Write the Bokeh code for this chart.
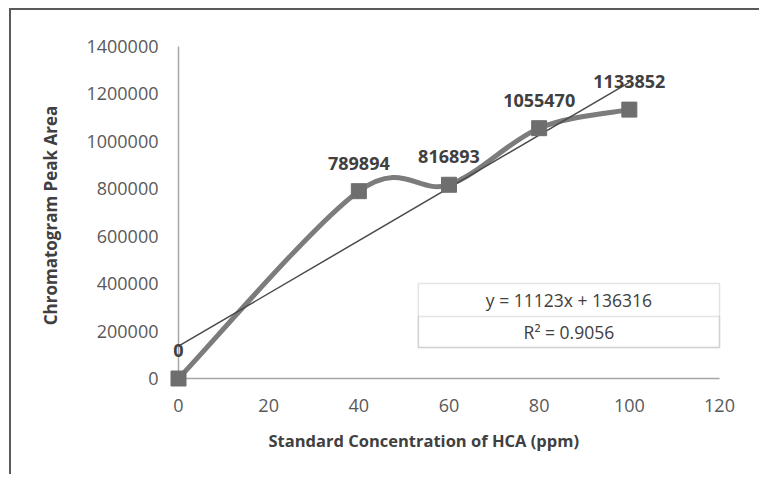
import numpy as np
from bokeh.plotting import figure
from bokeh.models import ColumnDataSource, Label, BoxAnnotation, FixedTicker, Title
from bokeh.core.properties import value
from bokeh.embed import file_html
from bokeh.resources import INLINE

# ---- data ----
conc = [0, 40, 60, 80, 100]
peak_area = [0, 789894, 816893, 1055470, 1133852]
point_labels = ["0", "789894", "816893", "1055470", "1133852"]
x_ticks = [0, 20, 40, 60, 80, 100, 120]
y_ticks = [0, 200000, 400000, 600000, 800000, 1000000, 1200000, 1400000]
trend_slope = 11123
trend_intercept = 136316
trend_x = [0, 100]
equation_text = "y = 11123x + 136316"
r2_text = "R\u00b2 = 0.9056"

FONT = "Open Sans"

# ---- geometry: frame padded a little so markers/labels at the axes are not clipped ----
FRAME_W, FRAME_H = 568, 354
x_lo, x_hi = x_ticks[0], x_ticks[-1]
y_lo, y_hi = y_ticks[0], y_ticks[-1]
x_scale = 541.0 / (x_hi - x_lo)          # px per unit
y_scale = 332.0 / (y_hi - y_lo)
pad_l, pad_r = 18.0, FRAME_W - 18.0 - 541.0
pad_b, pad_t = 14.0, FRAME_H - 14.0 - 332.0
x_range = (x_lo - pad_l / x_scale, x_hi + pad_r / x_scale)
y_range = (y_lo - pad_b / y_scale, y_hi + pad_t / y_scale)

p = figure(width=750, height=466, output_backend="svg", toolbar_location=None,
           x_range=x_range, y_range=y_range,
           min_border_left=149, min_border_right=33, min_border_top=28, min_border_bottom=84)
p.styles = {"border-top": "2px solid #5a5a5a", "border-left": "2px solid #5a5a5a",
            "margin-left": "9px", "margin-top": "8px"}
p.outline_line_color = None
p.grid.visible = False
p.background_fill_color = "white"
p.border_fill_color = "white"

# axes (labels only; axis lines drawn from the tick extents)
for ax in (p.xaxis, p.yaxis):
    ax.axis_line_color = None
    ax.major_tick_line_color = None
    ax.minor_tick_line_color = None
    ax.major_tick_out = 0
    ax.major_tick_in = 0
    ax.minor_tick_out = 0
    ax.major_label_text_font = FONT
    ax.major_label_text_font_size = "18px"
    ax.major_label_text_color = "#595959"
p.xaxis.ticker = FixedTicker(ticks=x_ticks)
p.yaxis.ticker = FixedTicker(ticks=y_ticks)
p.xaxis.major_label_standoff = 6
p.yaxis.major_label_standoff = 2
p.yaxis.major_label_overrides = {t: str(t) for t in y_ticks}
p.xaxis.major_label_overrides = {t: str(t) for t in x_ticks}

p.yaxis.axis_label = "Chromatogram Peak Area"
p.yaxis.axis_label_text_font = FONT
p.yaxis.axis_label_text_font_size = "17px"
p.yaxis.axis_label_text_font_style = "bold"
p.yaxis.axis_label_text_color = "#404040"
p.yaxis.axis_label_standoff = 21

p.add_layout(Title(text="Standard Concentration of HCA (ppm)", align="left", offset=108,
                   text_font=FONT, text_font_size="16.5px", text_font_style="bold",
                   text_color="#404040", standoff=25), "below")

axis_color = "#a6a6a6"
p.line([x_lo, x_hi], [y_lo, y_lo], line_color=axis_color, line_width=1.5)
p.line([x_lo, x_lo], [y_lo, y_hi], line_color=axis_color, line_width=1.5)

# ---- smoothed line (Excel-style bezier through the data) ----
xa = np.array(conc, dtype=float)
ya = np.array(peak_area, dtype=float)
xp = np.concatenate([[xa[0]], xa, [xa[-1]]])
yp = np.concatenate([[ya[0]], ya, [ya[-1]]])
n = len(xa) - 1
seg = dict(
    x0=xa[:-1], y0=ya[:-1], x1=xa[1:], y1=ya[1:],
    cx0=xa[:-1] + (xp[2:n + 2] - xp[0:n]) / 6.0,
    cy0=ya[:-1] + (yp[2:n + 2] - yp[0:n]) / 6.0,
    cx1=xa[1:] - (xp[3:n + 3] - xp[1:n + 1]) / 6.0,
    cy1=ya[1:] - (yp[3:n + 3] - yp[1:n + 1]) / 6.0,
)
p.bezier(source=ColumnDataSource(seg), x0="x0", y0="y0", x1="x1", y1="y1",
         cx0="cx0", cy0="cy0", cx1="cx1", cy1="cy1",
         line_color="#7c7c7c", line_width=5)

# trend line
tx = np.array(trend_x, dtype=float)
p.line(tx, trend_slope * tx + trend_intercept, line_color="#4a4a4a", line_width=1.5)

# markers
src = ColumnDataSource(dict(x=conc, y=peak_area, lab=point_labels))
p.scatter("x", "y", source=src, marker="square", size=15,
          fill_color="#6e6e6e", line_color="#6e6e6e")

# data labels
p.text("x", "y", text="lab", source=src, text_font=value(FONT), text_font_size="18px",
       text_font_style="bold", text_color="#404040", text_align="center",
       text_baseline="middle", y_offset=-28)

# equation box
p.add_layout(BoxAnnotation(left=53.2, right=120, bottom=130700, top=400600,
                           fill_color="white", fill_alpha=1.0,
                           line_color=axis_color, line_width=1.5))
p.add_layout(BoxAnnotation(left=53.2, right=120, bottom=130700, top=261400,
                           fill_alpha=0.0, line_color=axis_color, line_width=1.5))
p.add_layout(Label(x=86.6, y=331000, text=equation_text, text_font=FONT,
                   text_font_size="17.5px", text_color="#404040",
                   text_align="center", text_baseline="middle"))
p.add_layout(Label(x=86.6, y=196000, text=r2_text, text_font=FONT,
                   text_font_size="17.5px", text_color="#404040",
                   text_align="center", text_baseline="middle"))

open("out.html", "w").write(file_html(p, INLINE))
